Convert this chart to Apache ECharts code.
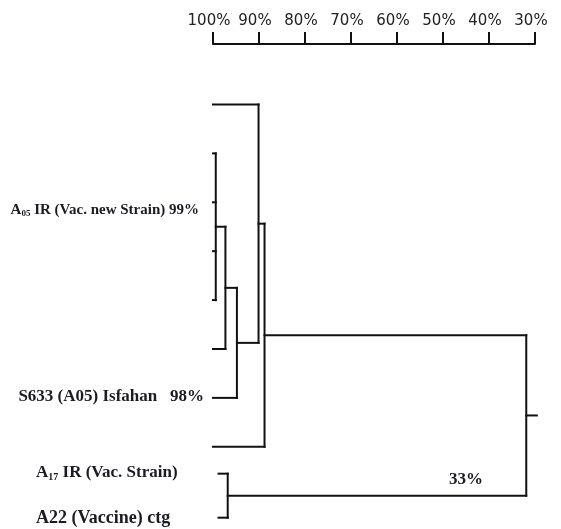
<!DOCTYPE html>
<html>
<head>
<meta charset="utf-8">
<script src="https://cdn.jsdelivr.net/npm/echarts@6/dist/echarts.min.js"></script>
<style>html,body{margin:0;padding:0;background:#fff;}#c{width:561px;height:529px;}</style>
</head>
<body>
<div id="c"></div>
<script>
// ---- data ----
// leaf rows (top to bottom) and where each leaf line starts (similarity %)
const leafRows  = [0, 1, 2, 3, 4, 5, 6, 7, 7.55, 8.45];
const leafStart = [100, 100, 100, 100, 100, 100, 100, 100, 98.8, 98.8];
// merges: children (leaf index 0..9, node index 10+k) and similarity %
const mergeChildren   = [[1, 2, 3, 4], [10, 5], [11, 6], [0, 12], [13, 7], [8, 9], [14, 15]];
const mergeSimilarity = [99.4, 97.3, 94.8, 90.1, 88.8, 96.8, 31.9];
const rootStubEnd = 29.6;
const axisValues = [30, 40, 50, 60, 70, 80, 90, 100];
const labelA05  = ['A', '05', ' IR (Vac. new Strain) 99%'];
const labelS633 = 'S633 (A05) Isfahan   98%';
const labelA17  = ['A', '17', ' IR (Vac. Strain)'];
const labelA22  = 'A22 (Vaccine) ctg';
const labelRoot = '33%';

// ---- build segments ----
const nLeaf = leafRows.length;
const nodeY = [], nodeX = [];
for (let i = 0; i < nLeaf; i++) { nodeY[i] = leafRows[i]; nodeX[i] = leafStart[i]; }
const segs = [];
mergeChildren.forEach((ch, k) => {
  const id = nLeaf + k, s = mergeSimilarity[k];
  const ys = ch.map(c => nodeY[c]);
  const yTop = Math.min(...ys), yBot = Math.max(...ys);
  ch.forEach(c => segs.push([nodeX[c], nodeY[c], s, nodeY[c]]));
  segs.push([s, yTop, s, yBot]);
  nodeY[id] = (nodeY[ch[0]] + nodeY[ch[ch.length - 1]]) / 2;
  nodeX[id] = s;
});
const rootId = nLeaf + mergeChildren.length - 1;
segs.push([nodeX[rootId], nodeY[rootId], rootStubEnd, nodeY[rootId]]);

const chart = echarts.init(document.getElementById('c'));
const serif = 'Liberation Serif';
const txtColor = '#1b1b24';
chart.setOption({
  animation: false,
  grid: { left: 213, right: 26, top: 44, bottom: 1 },
  xAxis: {
    type: 'value', position: 'top', inverse: true,
    min: axisValues[0], max: axisValues[axisValues.length - 1], interval: 10,
    splitLine: { show: false },
    axisLine: { onZero: false, lineStyle: { color: '#111', width: 2 } },
    axisTick: { length: 12, lineStyle: { color: '#111', width: 2 } },
    axisLabel: { formatter: '{value}%', color: '#222', fontSize: 15, fontFamily: 'DejaVu Sans', margin: 15, padding: [0, 8, 0, 0] }
  },
  yAxis: { type: 'value', inverse: true, min: -1.237, max: 8.661, show: false },
  series: [{
    type: 'custom', clip: false,
    encode: { x: [0, 2], y: [1, 3] },
    data: segs,
    renderItem: function (params, api) {
      const p1 = api.coord([api.value(0), api.value(1)]);
      const p2 = api.coord([api.value(2), api.value(3)]);
      return { type: 'line', shape: { x1: p1[0], y1: p1[1], x2: p2[0], y2: p2[1] },
        style: { stroke: '#111', lineWidth: 2, lineCap: 'square' } };
    }
  }],
  graphic: [
    { type: 'text', x: 199, y: 210, style: { text: '{m|' + labelA05[0] + '}{s|' + labelA05[1] + '}{m|' + labelA05[2] + '}',
      align: 'right', verticalAlign: 'middle',
      rich: { m: { fontFamily: serif, fontWeight: 'bold', fontSize: 15, lineHeight: 16, fill: txtColor, verticalAlign: 'middle' },
              s: { fontFamily: serif, fontWeight: 'bold', fontSize: 9, lineHeight: 9, fill: txtColor, verticalAlign: 'bottom' } } } },
    { type: 'text', x: 204, y: 397, style: { text: labelS633, align: 'right', verticalAlign: 'middle',
      fontFamily: serif, fontWeight: 'bold', fontSize: 17, fill: txtColor } },
    { type: 'text', x: 36, y: 473, style: { text: '{m|' + labelA17[0] + '}{s|' + labelA17[1] + '}{m|' + labelA17[2] + '}',
      align: 'left', verticalAlign: 'middle',
      rich: { m: { fontFamily: serif, fontWeight: 'bold', fontSize: 17, lineHeight: 18, fill: txtColor, verticalAlign: 'middle' },
              s: { fontFamily: serif, fontWeight: 'bold', fontSize: 10, lineHeight: 10, fill: txtColor, verticalAlign: 'bottom' } } } },
    { type: 'text', x: 36, y: 518, style: { text: labelA22, align: 'left', verticalAlign: 'middle',
      fontFamily: serif, fontWeight: 'bold', fontSize: 18, fill: txtColor } },
    { type: 'text', x: 449, y: 480, style: { text: labelRoot, align: 'left', verticalAlign: 'middle',
      fontFamily: serif, fontWeight: 'bold', fontSize: 17, fill: txtColor } }
  ]
});
</script>
</body>
</html>
